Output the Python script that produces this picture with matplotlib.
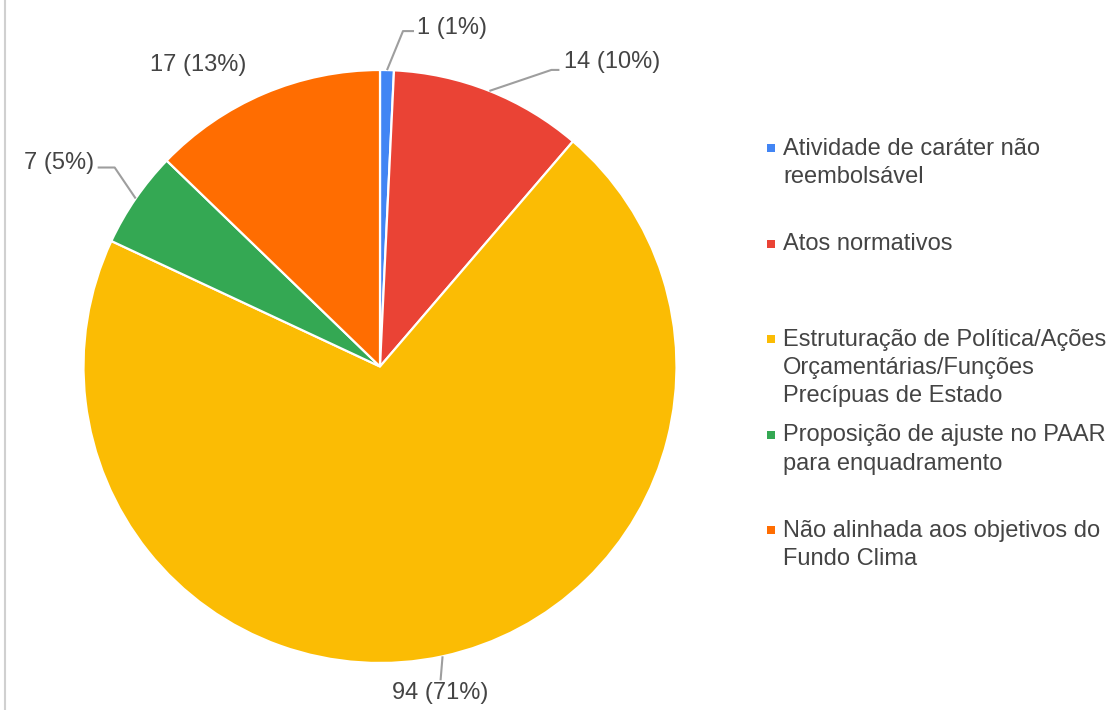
import numpy as np
import matplotlib.pyplot as plt
from matplotlib.lines import Line2D

# Dados
categorias = ['Atividade de caráter não\nreembolsável',
              'Atos normativos',
              'Estruturação de Política/Ações\nOrçamentárias/Funções\nPrecípuas de Estado',
              'Proposição de ajuste no PAAR\npara enquadramento',
              'Não alinhada aos objetivos do\nFundo Clima']
valores = [1, 14, 94, 7, 17]
cores = ['#4285F4', '#EA4335', '#FBBC04', '#34A853', '#FF6D01']

plt.rcParams['font.family'] = ['Liberation Sans', 'DejaVu Sans']
texto_cor = '#444444'

W, H = 1117, 710
fig = plt.figure(figsize=(W / 100, H / 100), dpi=100)
ax = fig.add_axes([0, 0, 1, 1])

cx, cy, r = 380, H - 366.5, 296.5
wedges, _ = ax.pie(valores, colors=cores, startangle=90, counterclock=False,
                   center=(cx, cy), radius=r, frame=True,
                   wedgeprops=dict(edgecolor='white', linewidth=1.6))
ax.set_xlim(0, W)
ax.set_ylim(0, H)
ax.set_aspect('equal')
ax.axis('off')

# percentuais arredondados somando 100 (maior resto)
total = sum(valores)
brutos = np.array(valores) * 100 / total
pct = np.floor(brutos).astype(int)
falta = 100 - pct.sum()
for j in np.argsort(-(brutos - pct))[:falta]:
    pct[j] += 1

# deslocamentos do cotovelo e do texto (pixels) para cada rótulo
cotovelo = [(16, 39), (62, 21), (-2, -24), (-21, 31), None]
horiz = [11, 8, 0, -17, 0]
texto_off = [(3, 3), (5, 8), (0, -13), (-4, 5), (-66, 29)]

for i, v in enumerate(valores):
    frac = (sum(valores[:i]) + v / 2) / total
    ang = np.deg2rad(90 - 360 * frac)
    px, py = cx + r * np.cos(ang), cy + r * np.sin(ang)
    rotulo = f'{v} ({pct[i]}%)'
    if cotovelo[i] is None:
        ax.text(px + texto_off[i][0], py + texto_off[i][1], rotulo, fontsize=17,
                color=texto_cor, ha='center', va='center')
        continue
    ex, ey = px + cotovelo[i][0], py + cotovelo[i][1]
    fx = ex + horiz[i]
    ax.plot([px, ex, fx], [py, ey, ey], color='#9e9e9e', lw=1.5,
            solid_capstyle='butt')
    if horiz[i] > 0:
        ha = 'left'
    elif horiz[i] < 0:
        ha = 'right'
    else:
        ha = 'center'
    ax.text(fx + texto_off[i][0], ey + texto_off[i][1], rotulo, fontsize=17,
            color=texto_cor, ha=ha, va='center')

# Legenda
lx, ly0, passo = 783, H - 148, 95.5
for i, (cat, cor) in enumerate(zip(categorias, cores)):
    y = ly0 - i * passo
    ax.plot([lx - 12], [y], marker='s', markersize=6, color=cor,
            markeredgewidth=0)
    ax.text(lx, y + 10, cat, fontsize=17, color=texto_cor, ha='left', va='top',
            linespacing=1.36)

# borda à esquerda
fig.add_artist(Line2D([5 / W, 5 / W], [0, 1], color='#d0d0d0', lw=1.5,
                      transform=fig.transFigure))

fig.savefig('out.png', dpi=100, facecolor='white')
